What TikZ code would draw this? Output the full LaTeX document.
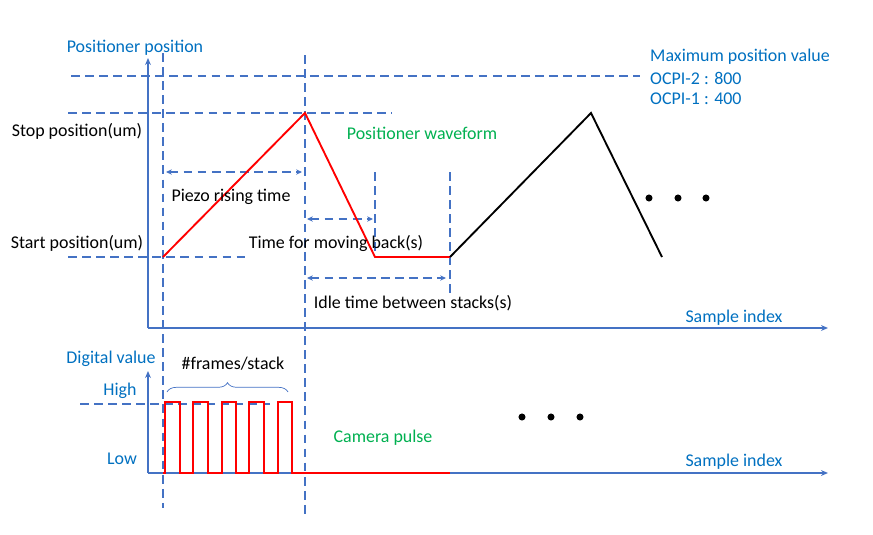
\documentclass[tikz,border=0pt]{standalone}
\usepackage{fontspec}
\setmainfont{Carlito}
\usetikzlibrary{arrows.meta,decorations.pathreplacing}
\definecolor{axisblue}{HTML}{4472C4}
\definecolor{textblue}{HTML}{0070C0}
\definecolor{wavegreen}{HTML}{00B050}
\tikzset{
  axisline/.style={axisblue,line width=1.6pt,-{Stealth[length=6pt,width=5pt]}},
  guide/.style={axisblue,line width=1.6pt,dash pattern=on 7.5pt off 4.5pt},
  span/.style={guide,{Stealth[length=5pt,width=4.5pt]}-{Stealth[length=5pt,width=4.5pt]}},
  wave/.style={red,line width=1.6pt},
  lbl/.style={font=\fontsize{15.3}{18}\selectfont,inner sep=0pt,yshift=-1.7pt},
  bluelbl/.style={lbl,text=textblue},
  greenlbl/.style={lbl,text=wavegreen},
  bigdot/.style={circle,fill=black,inner sep=0pt,minimum size=6pt}
}
\begin{document}
\begin{tikzpicture}[x=0.3mm,y=-0.3mm]
  \useasboundingbox (0,0) rectangle (873,534);

  % axes
  \coordinate (o1) at (148,328);
  \coordinate (o2) at (148,473);
  \coordinate (y1) at (148,58);
  \coordinate (x1) at (828,328);
  \coordinate (y2) at (148,371);
  \coordinate (x2) at (828,473);
  \draw[axisline] (o1) -- (y1);
  \draw[axisline] (o1) -- (x1);
  \draw[axisline] (o2) -- (y2);
  \draw[axisline] (o2) -- (x2);

  % waveform corners
  \coordinate (s0) at (163,257);
  \coordinate (s1) at (305,113);
  \coordinate (s2) at (375,257);
  \coordinate (s3) at (450,257);
  \coordinate (s4) at (591,113);
  \coordinate (s5) at (662,257);

  % guide lines
  \draw[guide] (163,53) -- (163,508);
  \draw[guide] (305,55) -- (305,515);
  \draw[guide] (375,172) -- (s2);
  \draw[guide] (450,172) -- (450,293);
  \draw[guide] (71,76) -- (640,76);
  \draw[guide] (68,113) -- (s1) -- (392,113);
  \draw[guide] (68,257) -- (s0) -- (248,257);
  \draw[guide] (80,404) -- (270,404);

  % time spans
  \draw[span] (166,172) -- (302,172);
  \draw[span] (307,219) -- (373,219);
  \draw[span] (307,278) -- (446,278);

  % positioner waveform
  \draw[wave] (s0) -- (s1) -- (s2) -- (s3);
  \draw[black,line width=1.6pt] (s3) -- (s4) -- (s5);

  % camera pulses
  \draw[wave] (163,473) foreach \a/\b in {165/180,193/208,222/236,249/264,278/292} {
    -- (\a,473) -- (\a,402) -- (\b,402) -- (\b,473) } -- (450,473);

  % brace
  \draw[axisblue,line width=0.6pt,decorate,decoration={brace,amplitude=8pt}]
    (167,392) -- (288,392);

  % dots
  \foreach \i/\x in {1/649,2/678,3/706}
    \node[bigdot] (td\i) at (\x,198) {};
  \foreach \i/\x in {1/522,2/551,3/580}
    \node[bigdot] (bd\i) at (\x,417) {};

  % labels
  \node[bluelbl] (ylab1) at (135,46) {Positioner position};
  \node[lbl] (stop) at (77,129) {Stop position(um)};
  \node[lbl] (start) at (77,241) {Start position(um)};
  \node[lbl] (rise) at (231,195) {Piezo rising time};
  \node[lbl] (back) at (336,241) {Time for moving back(s)};
  \node[lbl] (idle) at (413,301) {Idle time between stacks(s)};
  \node[greenlbl] (pw) at (422,131) {Positioner waveform};
  \node[bluelbl,anchor=west] (maxv) at (650,55) {Maximum position value};
  \node[bluelbl,anchor=west] (ocpi2) at (650,76) {OCPI-2 : 800};
  \node[bluelbl,anchor=west] (ocpi1) at (650,97) {OCPI-1 : 400};
  \node[bluelbl] (xlab1) at (734,316) {Sample index};
  \node[bluelbl] (xlab2) at (734,460) {Sample index};
  \node[bluelbl] (ylab2) at (111,357) {Digital value};
  \node[bluelbl] (high) at (120,389) {High};
  \node[bluelbl] (low) at (122,457) {Low};
  \node[lbl] (frames) at (233,362) {\#frames/stack};
  \node[greenlbl] (cp) at (383,436) {Camera pulse};
\end{tikzpicture}
\end{document}
